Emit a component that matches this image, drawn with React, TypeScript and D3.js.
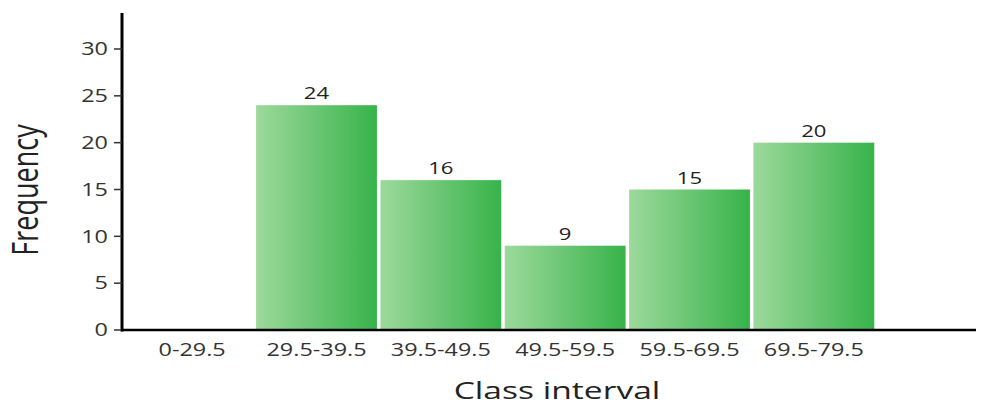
import React from "react";
import * as d3 from "d3";

const categories = ["0-29.5", "29.5-39.5", "39.5-49.5", "49.5-59.5", "59.5-69.5", "69.5-79.5"];
const frequencies = [0, 24, 16, 9, 15, 20];
const yTicks = [0, 5, 10, 15, 20, 25, 30];

const W = 989;
const H = 406;
const SX = 1.3;

export default function App() {
  const x = d3.scaleBand<string>().domain(categories).range([130, 876]).paddingInner(0.028).paddingOuter(0.014);
  const y = d3.scaleLinear().domain([0, 30]).range([330, 49]);
  const font = "'Open Sans', 'Noto Sans', sans-serif";
  return (
    <svg width={W} height={H} style={{ position: "absolute", left: 0, top: 0 }} fontFamily={font}>
      <defs>
        <linearGradient id="barGrad" x1="0" x2="1" y1="0" y2="0">
          <stop offset="0%" stopColor="#9dd99c" />
          <stop offset="100%" stopColor="#37b34a" />
        </linearGradient>
      </defs>
      {categories.map((c, i) =>
        frequencies[i] > 0 ? (
          <g key={c}>
            <rect x={x(c)} y={y(frequencies[i])} width={x.bandwidth()} height={y(0) - y(frequencies[i])} fill="url(#barGrad)" />
            <text
              transform={`translate(${(x(c) as number) + x.bandwidth() / 2},${y(frequencies[i]) - 6}) scale(${SX},1)`}
              textAnchor="middle"
              fontSize={17}
              fill="#222"
            >
              {frequencies[i]}
            </text>
          </g>
        ) : null
      )}
      {/* y axis */}
      <line x1={122} x2={122} y1={13} y2={331.5} stroke="#000" strokeWidth={3} />
      {yTicks.map((t) => (
        <g key={t}>
          <line x1={114} x2={122} y1={y(t)} y2={y(t)} stroke="#333" strokeWidth={1.5} />
          <text transform={`translate(108,${y(t)}) scale(${SX},1)`} dy="0.35em" textAnchor="end" fontSize={18} fill="#333">
            {t}
          </text>
        </g>
      ))}
      {/* x axis */}
      <line x1={121} x2={976} y1={330} y2={330} stroke="#000" strokeWidth={2.5} />
      {categories.map((c) => (
        <text
          key={c}
          transform={`translate(${(x(c) as number) + x.bandwidth() / 2},356) scale(${SX},1)`}
          textAnchor="middle"
          fontSize={18}
          fill="#333"
        >
          {c}
        </text>
      ))}
      <text transform={`translate(557,399) scale(1.4,1)`} textAnchor="middle" fontSize={24} fill="#222">
        Class interval
      </text>
      <text transform="translate(38,190) scale(1.35,1) rotate(-90)" textAnchor="middle" fontSize={27} fill="#222">
        Frequency
      </text>
    </svg>
  );
}
